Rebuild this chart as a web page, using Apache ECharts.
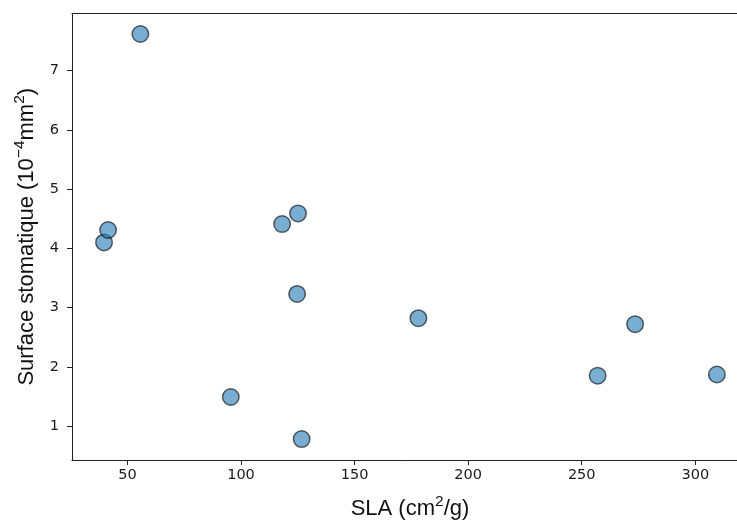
<!DOCTYPE html>
<html>
<head>
<meta charset="utf-8">
<script src="https://cdn.jsdelivr.net/npm/echarts@6/dist/echarts.min.js"></script>
<style>
  html, body { margin: 0; padding: 0; background: #fff; }
  #chart { width: 737px; height: 520px; }
</style>
</head>
<body>
<div id="chart"></div>
<script>
// Specific leaf area vs. stomatal surface, one point per species
const sla = [55.7, 39.7, 41.5, 95.5, 118.1, 125.1, 124.7, 126.7, 178.1, 257.0, 273.5, 309.5];
const stomatalSurface = [7.62, 4.10, 4.31, 1.49, 4.41, 4.59, 3.23, 0.78, 2.82, 1.85, 2.72, 1.87];

const xTicks = [50, 100, 150, 200, 250, 300];
const yTicks = [1, 2, 3, 4, 5, 6, 7];

const points = sla.map((v, i) => [v, stomatalSurface[i]]);

const tickFont = { fontFamily: 'DejaVu Sans', fontSize: 14.5, color: '#1a1a1a' };
const nameFont = 'Liberation Sans';
const nameRich = {
  b: { fontFamily: nameFont, fontSize: 22, color: '#111', lineHeight: 26, verticalAlign: 'bottom' },
  s: { fontFamily: nameFont, fontSize: 15.5, color: '#111', lineHeight: 26, verticalAlign: 'top' }
};

const chart = echarts.init(document.getElementById('chart'), null, { renderer: 'canvas' });
chart.setOption({
  animation: false,
  backgroundColor: '#fff',
  // the plot frame runs a little past the right edge of the page
  grid: { left: 72, top: 13.5, width: 676, height: 446.5, containLabel: false, outerBoundsMode: 'none' },
  xAxis: [{
    type: 'value',
    min: 25.6,
    max: 323.2,
    position: 'bottom',
    splitLine: { show: false },
    axisLine: { show: true, lineStyle: { color: '#222', width: 1 } },
    axisTick: { show: true, length: 5, inside: false, customValues: xTicks, lineStyle: { color: '#222' } },
    axisLabel: Object.assign({ margin: 8, customValues: xTicks }, tickFont),
    name: '{b|SLA (cm}{s|2}{b|/g)}',
    nameLocation: 'middle',
    nameGap: 34,
    nameTextStyle: { rich: nameRich }
  }, {
    type: 'value',
    min: 25.6,
    max: 323.2,
    position: 'top',
    splitLine: { show: false },
    axisLine: { show: true, lineStyle: { color: '#222', width: 1 } },
    axisTick: { show: false },
    axisLabel: { show: false }
  }],
  yAxis: [{
    type: 'value',
    min: 0.426,
    max: 7.966,
    splitLine: { show: false },
    axisLine: { show: true, lineStyle: { color: '#222', width: 1 } },
    axisTick: { show: true, length: 5, customValues: yTicks, lineStyle: { color: '#222' } },
    axisLabel: Object.assign({ margin: 13, customValues: yTicks }, tickFont),
    name: '{b|Surface stomatique (10}{s|−4}{b|mm}{s|2}{b|)}',
    nameLocation: 'middle',
    nameGap: 34,
    nameRotate: 90,
    nameTextStyle: { rich: nameRich }
  }],
  series: [{
    type: 'scatter',
    data: points,
    symbol: 'circle',
    symbolSize: 16.5,
    itemStyle: {
      color: '#1f77b4',
      borderColor: '#000',
      borderWidth: 1.5,
      opacity: 0.6
    }
  }]
});
</script>
</body>
</html>
